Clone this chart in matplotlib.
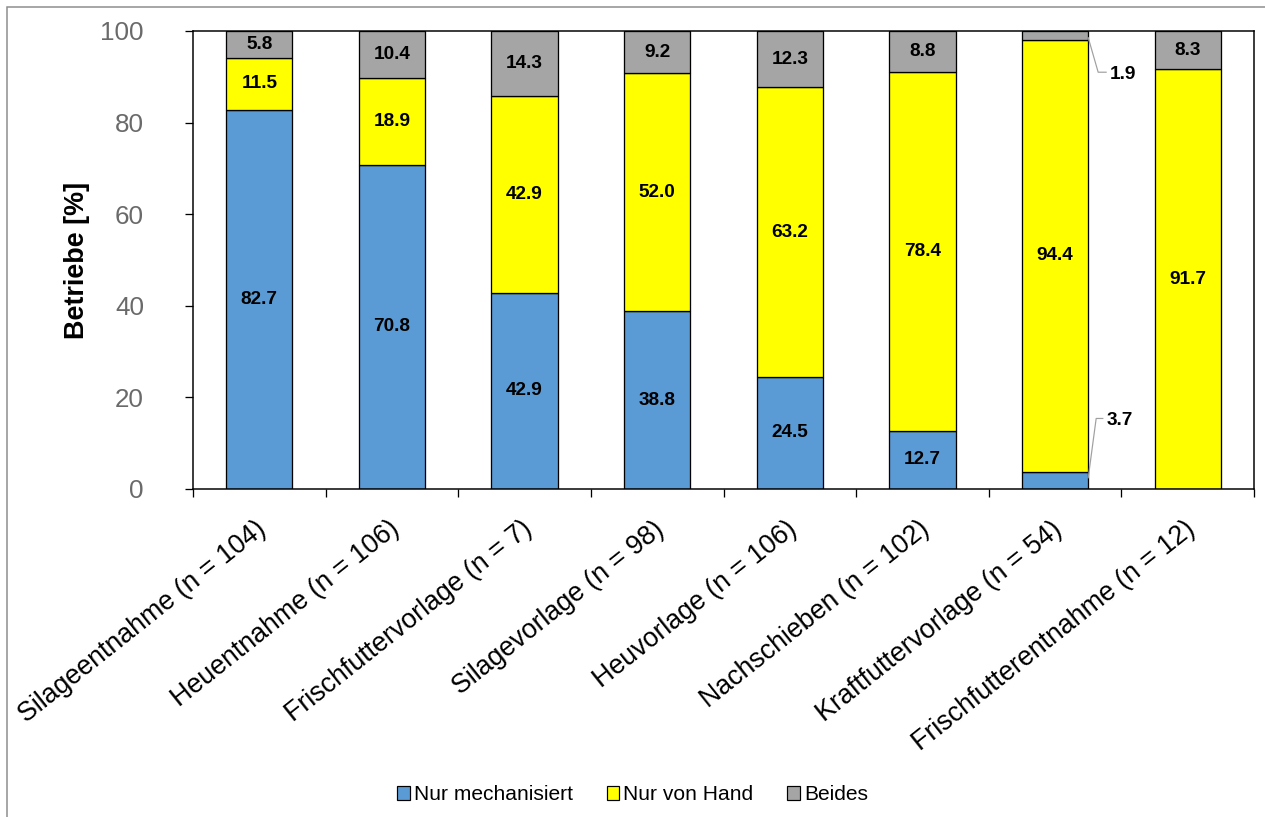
import matplotlib.pyplot as plt
import matplotlib.transforms as mtransforms
from matplotlib.patches import Rectangle
import numpy as np

plt.rcParams['font.family'] = ['Liberation Sans', 'DejaVu Sans']

kategorien = ['Silageentnahme (n = 104)', 'Heuentnahme (n = 106)', 'Frischfuttervorlage (n = 7)',
              'Silagevorlage (n = 98)', 'Heuvorlage (n = 106)', 'Nachschieben (n = 102)',
              'Kraftfuttervorlage (n = 54)', 'Frischfutterentnahme (n = 12)']
mechanisiert = [82.7, 70.8, 42.9, 38.8, 24.5, 12.7, 3.7, 0.0]
von_hand = [11.5, 18.9, 42.9, 52.0, 63.2, 78.4, 94.4, 91.7]
beides = [5.8, 10.4, 14.3, 9.2, 12.3, 8.8, 1.9, 8.3]
serien = ['Nur mechanisiert', 'Nur von Hand', 'Beides']
farben = ['#5B9BD5', '#FFFF00', '#A5A5A5']

W, H = 1265, 817
fig = plt.figure(figsize=(W / 72, H / 72), dpi=72)
ax = fig.add_axes([193 / W, 1 - 489 / H, (1254 - 193) / W, (489 - 31) / H])

# Rahmen um die ganze Grafik
fig.patches.append(Rectangle((7 / W, -0.1), 1.2, 1 - 7 / H + 0.1, transform=fig.transFigure,
                             fill=False, edgecolor='#8C8C8C', linewidth=1.5))

x = np.arange(len(kategorien))
unten = np.zeros(len(kategorien))
for werte, name, farbe in zip([mechanisiert, von_hand, beides], serien, farben):
    werte = np.array(werte)
    ax.bar(x, werte, 0.5, bottom=unten, color=farbe, edgecolor='black', linewidth=1.3, label=name)
    for i, (w, b) in enumerate(zip(werte, unten)):
        if w >= 5:
            ax.text(i, b + w / 2, '%.1f' % w, ha='center', va='center',
                    fontsize=19, fontweight='bold', color='black')
    unten = unten + werte

# kleine Segmente bei Kraftfuttervorlage mit Führungslinie beschriften
k = 6
ax.plot([k + 0.25, k + 0.325, k + 0.385], [100 - beides[k] / 2 - 0.5, 91.0, 91.0],
        color='#A0A0A0', lw=1.2, clip_on=False)
ax.text(k + 0.415, 90.6, '%.1f' % beides[k], ha='left', va='center', fontsize=19, fontweight='bold')
ax.plot([k + 0.25, k + 0.31, k + 0.36], [mechanisiert[k] / 2 + 0.6, 15.4, 15.4],
        color='#A0A0A0', lw=1.2, clip_on=False)
ax.text(k + 0.39, 14.9, '%.1f' % mechanisiert[k], ha='left', va='center', fontsize=19, fontweight='bold')

ax.set_xlim(-0.5, len(kategorien) - 0.5)
ax.set_ylim(0, 100)
ax.set_yticks(range(0, 101, 20))
ax.tick_params(axis='y', direction='out', length=8, width=1.3, pad=41, labelsize=26, labelcolor='#6A6A6A')

ax.set_xticks(x)
ax.set_xticks(np.arange(-0.5, len(kategorien)), minor=True)
ax.tick_params(axis='x', which='minor', direction='out', length=8, width=1.3)
ax.tick_params(axis='x', which='major', length=0, pad=27)
ax.set_xticklabels(kategorien, rotation=38.5, ha='right', rotation_mode='anchor', fontsize=26.8)
verschiebung = mtransforms.ScaledTranslation(-4 / 72, 0, fig.dpi_scale_trans)
for lab in ax.get_xticklabels():
    lab.set_transform(lab.get_transform() + verschiebung)

for s in ax.spines.values():
    s.set_linewidth(1.5)
    s.set_color('black')

ax.set_ylabel('Betriebe [%]', fontsize=27, fontweight='bold')
ax.yaxis.set_label_coords(-(193 - 90) / (1254 - 193), 0.5)

ax.legend(loc='center', bbox_to_anchor=(0.5, 1 - 795 / H), bbox_transform=fig.transFigure,
          ncol=3, frameon=False, fontsize=21, handlelength=0.6, handleheight=0.6,
          handletextpad=0.2, columnspacing=1.6)
for h in ax.get_legend().legend_handles:
    h.set_linewidth(1.2)

fig.savefig('out.png', dpi=72)
